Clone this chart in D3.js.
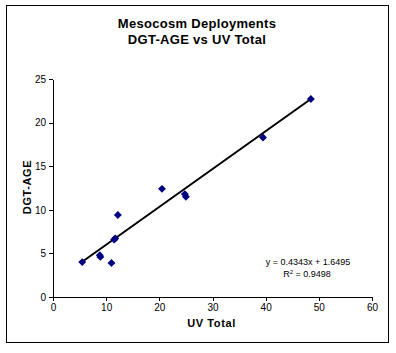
<!DOCTYPE html>
<html>
<head>
<meta charset="utf-8">
<script src="https://cdn.jsdelivr.net/npm/d3@7"></script>
<style>
  body { margin: 0; background: #fff; }
  svg { font-family: "Liberation Sans", Arial, sans-serif; }
  .axis path, .axis line { stroke: #000; shape-rendering: crispEdges; }
  .axis text { font-size: 10px; fill: #000; }
</style>
</head>
<body>
<div class="chart"></div>
<script>
// data
const uv_total = [5.5, 8.8, 8.9, 11.0, 11.5, 11.7, 12.2, 20.5, 24.8, 25.0, 39.5, 48.5];
const dgt_age  = [4.0, 4.8, 4.6, 3.9, 6.6, 6.7, 9.4, 12.4, 11.8, 11.5, 18.3, 22.7];
const x_ticks = [0, 10, 20, 30, 40, 50, 60];
const y_ticks = [0, 5, 10, 15, 20, 25];
// trendline as printed on the chart
const slope = 0.4343;
const intercept = 1.6495;
const r_squared = 0.9498;

const points = uv_total.map((d, i) => ({x: d, y: dgt_age[i]}));

const svg_width = 396;
const svg_height = 353;
const margin = {top: 79, right: 24, bottom: 56, left: 53};
const chart_width = svg_width - margin.left - margin.right;
const chart_height = svg_height - margin.top - margin.bottom;

const svg = d3.select('.chart').append('svg')
    .attr('width', svg_width)
    .attr('height', svg_height);

// outer frame
svg.append('rect')
    .attr('x', 6.5).attr('y', 5.5)
    .attr('width', 382).attr('height', 337)
    .attr('fill', 'none')
    .attr('stroke', '#000');

// title
const title = svg.append('text')
    .attr('text-anchor', 'middle')
    .style('font-size', '13px')
    .style('font-weight', 'bold')
    .style('letter-spacing', '0.3px');
title.append('tspan').attr('x', 197).attr('y', 28).text('Mesocosm Deployments');
title.append('tspan').attr('x', 197).attr('y', 44).text('DGT-AGE vs UV Total');

const g = svg.append('g')
    .attr('transform', `translate(${margin.left},${margin.top})`);

const x_scale = d3.scaleLinear().domain([0, 60]).range([0, chart_width]);
const y_scale = d3.scaleLinear().domain([0, 25]).range([chart_height, 0]);

const x_axis = d3.axisBottom(x_scale).tickValues(x_ticks).tickSizeInner(4).tickSizeOuter(0);
g.append('g').attr('class', 'x axis')
    .attr('transform', `translate(0,${chart_height})`)
    .call(x_axis);

const y_axis = d3.axisLeft(y_scale).tickValues(y_ticks).tickSizeInner(4).tickSizeOuter(0);
g.append('g').attr('class', 'y axis').call(y_axis);

// axis titles
svg.append('text')
    .attr('x', margin.left + chart_width / 2 - 1)
    .attr('y', 327)
    .attr('text-anchor', 'middle')
    .style('font-size', '11px')
    .style('font-weight', 'bold')
    .style('letter-spacing', '0.6px')
    .text('UV Total');

svg.append('text')
    .attr('transform', `translate(31,${margin.top + chart_height / 2 - 1}) rotate(-90)`)
    .attr('text-anchor', 'middle')
    .style('font-size', '11px')
    .style('font-weight', 'bold')
    .style('letter-spacing', '0.6px')
    .text('DGT-AGE');

// trendline over the data range
const x_ext = d3.extent(uv_total);
g.append('line')
    .attr('x1', x_scale(x_ext[0]))
    .attr('y1', y_scale(slope * x_ext[0] + intercept))
    .attr('x2', x_scale(x_ext[1]))
    .attr('y2', y_scale(slope * x_ext[1] + intercept))
    .attr('stroke', '#000')
    .attr('stroke-width', 2);

// diamond markers
const diamond = d3.symbol().type(d3.symbolDiamond2).size(40);
g.selectAll('.dot')
    .data(points)
    .enter()
    .append('path')
    .attr('class', 'dot')
    .attr('d', diamond)
    .attr('transform', d => `translate(${x_scale(d.x)},${y_scale(d.y)})`)
    .attr('fill', '#000080');

// equation label
const eq = svg.append('text')
    .attr('text-anchor', 'middle')
    .style('font-size', '9px');
eq.append('tspan').attr('x', 308).attr('y', 265)
    .text(`y = ${slope}x + ${intercept}`);
const r2 = svg.append('text')
    .attr('x', 307).attr('y', 277)
    .attr('text-anchor', 'middle')
    .style('font-size', '9px');
r2.append('tspan').text('R');
r2.append('tspan').attr('dy', -3).style('font-size', '6px').text('2');
r2.append('tspan').attr('dy', 3).text(` = ${r_squared}`);
</script>
</body>
</html>
